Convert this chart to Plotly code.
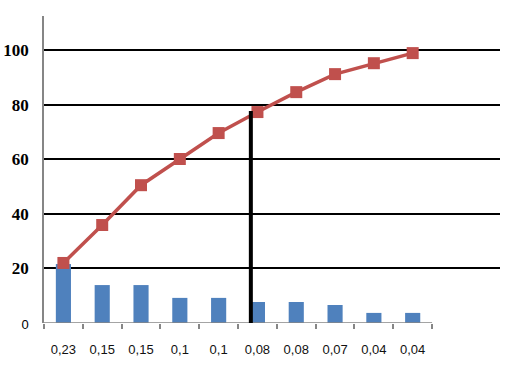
import plotly.graph_objects as go

# Category labels (x axis)
cats = ["0,23", "0,15", "0,15", "0,1", "0,1", "0,08", "0,08", "0,07", "0,04", "0,04"]
# Bar heights (axis units 0..100)
bar_vals = [21.6, 13.9, 13.9, 9.2, 9.2, 7.7, 7.7, 6.6, 3.7, 3.7]
# Cumulative line values
cum_vals = [22.0, 35.9, 50.5, 60.1, 69.6, 77.3, 84.6, 91.2, 95.2, 98.9]
# Y tick values / labels
y_ticks = [0, 20, 40, 60, 80, 100]
serif = "font-family:'Liberation Serif','Times New Roman',serif;font-weight:bold"
y_labels = ["<span style='font-family:Liberation Sans,Arial,sans-serif;font-weight:normal;font-size:13px'>0</span>"] + \
           [f"<span style=\"{serif}\">{v}</span>" for v in y_ticks[1:]]
# Cut-off marker line (position in category index, top value)
cut_pos = 4.83
cut_top = 77.7

ids = [f"c{i}" for i in range(len(cats))]

fig = go.Figure()
fig.add_trace(go.Bar(x=ids, y=bar_vals, width=0.39, marker_color="#4F81BD",
                     marker_line_width=0, showlegend=False))
fig.add_trace(go.Scatter(x=ids, y=cum_vals, mode="lines+markers",
                         line=dict(color="#C0504D", width=3.5),
                         marker=dict(symbol="square", size=12, color="#C0504D"),
                         showlegend=False))

# x axis line (only under the categories)
fig.add_shape(type="line", xref="x", yref="y", x0=-0.5, x1=len(cats) - 0.5, y0=0, y1=0,
              line=dict(color="#868686", width=1.5), layer="above")
# thick cut-off line
fig.add_shape(type="line", xref="x", yref="y", x0=cut_pos, x1=cut_pos, y0=-0.8, y1=cut_top,
              line=dict(color="black", width=4), layer="above")

fig.update_layout(
    width=505, height=367,
    margin=dict(l=44, r=5, t=16, b=44),
    paper_bgcolor="white", plot_bgcolor="white",
    bargap=0.6,
    xaxis=dict(type="category", categoryorder="array", categoryarray=ids,
               range=[-0.5, 11.25], tickmode="array", tickvals=ids, ticktext=cats,
               ticks="outside", ticklen=5, tickcolor="#868686", tickwidth=1.5,
               tickson="boundaries", showline=False, showgrid=False,
               ticklabelstandoff=17, automargin=False,
               tickfont=dict(family="Liberation Sans", size=13, color="#111111")),
    yaxis=dict(range=[0, 112.5], tickmode="array", tickvals=y_ticks, ticktext=y_labels,
               showgrid=True, gridcolor="black", gridwidth=1.5,
               zeroline=True, zerolinecolor="white", zerolinewidth=2,
               showline=True, linecolor="#868686", linewidth=1.5,
               ticks="", ticklabelstandoff=10, automargin=False,
               tickfont=dict(family="Liberation Serif, Times New Roman, serif", size=17, color="black")),
)

fig.write_html("out.html")
